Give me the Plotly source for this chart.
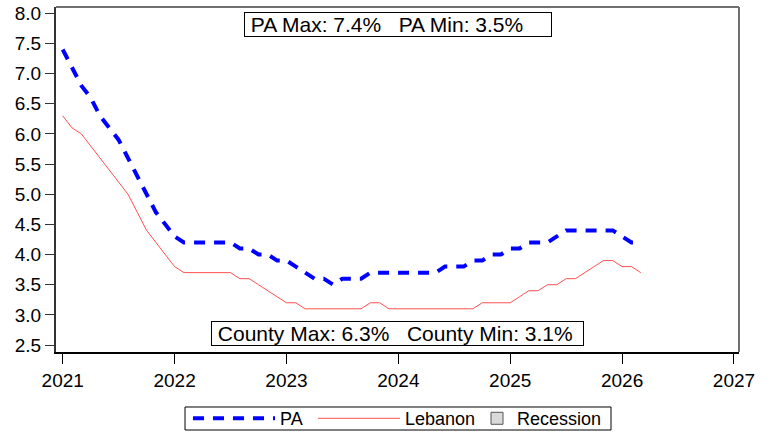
import plotly.graph_objects as go

# Monthly data, Jan 2021 - Mar 2026
start_year = 2021
pa_rate = [
    7.4, 7.1, 6.8, 6.6, 6.3, 6.1, 5.9, 5.6, 5.3, 5.0, 4.7, 4.5,   # 2021
    4.3, 4.2, 4.2, 4.2, 4.2, 4.2, 4.2, 4.1, 4.1, 4.0, 4.0, 3.9,   # 2022
    3.9, 3.8, 3.7, 3.6, 3.6, 3.5, 3.6, 3.6, 3.6, 3.7, 3.7, 3.7,   # 2023
    3.7, 3.7, 3.7, 3.7, 3.7, 3.8, 3.8, 3.8, 3.9, 3.9, 4.0, 4.0,   # 2024
    4.1, 4.1, 4.2, 4.2, 4.2, 4.3, 4.4, 4.4, 4.4, 4.4, 4.4, 4.4,   # 2025
    4.3, 4.2, 4.2,                                                # 2026
]
lebanon_rate = [
    6.3, 6.1, 6.0, 5.8, 5.6, 5.4, 5.2, 5.0, 4.7, 4.4, 4.2, 4.0,   # 2021
    3.8, 3.7, 3.7, 3.7, 3.7, 3.7, 3.7, 3.6, 3.6, 3.5, 3.4, 3.3,   # 2022
    3.2, 3.2, 3.1, 3.1, 3.1, 3.1, 3.1, 3.1, 3.1, 3.2, 3.2, 3.1,   # 2023
    3.1, 3.1, 3.1, 3.1, 3.1, 3.1, 3.1, 3.1, 3.1, 3.2, 3.2, 3.2,   # 2024
    3.2, 3.3, 3.4, 3.4, 3.5, 3.5, 3.6, 3.6, 3.7, 3.8, 3.9, 3.9,   # 2025
    3.8, 3.8, 3.7,                                                # 2026
]
year_ticks = [2021, 2022, 2023, 2024, 2025, 2026, 2027]
y_ticks = [2.5, 3.0, 3.5, 4.0, 4.5, 5.0, 5.5, 6.0, 6.5, 7.0, 7.5, 8.0]

x_vals = [start_year + i / 12 for i in range(len(pa_rate))]

SP = "\u00a0\u00a0\u00a0"
pa_label = "\u00a0PA Max: %.1f%%%sPA Min: %.1f%%" % (max(pa_rate), SP, min(pa_rate))
cty_label = "\u00a0County Max: %.1f%%%sCounty Min: %.1f%%" % (max(lebanon_rate), SP, min(lebanon_rate))

FONT = "Liberation Sans, Arial, sans-serif"

fig = go.Figure()
fig.add_trace(go.Scatter(
    x=x_vals, y=pa_rate, name="PA", mode="lines", legend="legend",
    line=dict(color="#0000ff", width=4, dash="11px,9px"),
))
fig.add_trace(go.Scatter(
    x=x_vals, y=lebanon_rate, name="Lebanon", mode="lines", legend="legend2",
    line=dict(color="#ff5050", width=1),
))
fig.add_trace(go.Bar(
    x=[None], y=[None], name="Recession", showlegend=True, legend="legend3",
    marker=dict(color="#d9d9d9", line=dict(color="#555555", width=1)),
))

L_Y = -0.193
leg_common = dict(orientation="h", y=L_Y, yanchor="middle", xanchor="left",
                  bgcolor="rgba(0,0,0,0)", borderwidth=0, font=dict(size=18))

fig.update_layout(
    width=770, height=434,
    margin=dict(l=56, r=31, t=7, b=82, autoexpand=False),
    paper_bgcolor="white", plot_bgcolor="white",
    font=dict(family=FONT, color="black", size=18),
    showlegend=True,
    legend=dict(x=0.1933, itemwidth=82, **leg_common),
    legend2=dict(x=0.3763, itemwidth=82, **leg_common),
    legend3=dict(x=0.6164, itemwidth=30, **leg_common),
    annotations=[
        dict(text=pa_label, xref="paper", yref="paper", x=0.5, y=0.949,
             xanchor="center", yanchor="middle", showarrow=False,
             font=dict(size=21), bordercolor="black", borderwidth=1,
             borderpad=0, bgcolor="white", width=306, align="left"),
        dict(text=cty_label, xref="paper", yref="paper", x=0.5, y=0.055,
             xanchor="center", yanchor="middle", showarrow=False,
             font=dict(size=21), bordercolor="black", borderwidth=1,
             borderpad=0, bgcolor="white", width=371, align="left"),
    ],
    shapes=[
        dict(type="line", xref="paper", yref="paper", x0=0, x1=1, y0=1, y1=1,
             line=dict(color="#707070", width=2)),
        dict(type="line", xref="paper", yref="paper", x0=1, x1=1, y0=0, y1=1,
             line=dict(color="#707070", width=2)),
        # legend frame
        dict(type="rect", xref="paper", yref="paper",
             x0=0.1889, x1=0.8126, y0=-0.2261, y1=-0.1594,
             line=dict(color="black", width=1), fillcolor="rgba(0,0,0,0)"),
    ],
)
fig.update_xaxes(
    range=[2020.94, 2027.045], tickvals=year_ticks,
    ticktext=[str(y) for y in year_ticks], automargin=False,
    showgrid=False, zeroline=False, showline=True, linecolor="black", linewidth=2,
    ticks="outside", ticklen=10, tickcolor="black", tickwidth=1,
    tickfont=dict(size=19),
)
fig.update_yaxes(
    range=[2.384, 8.104], tickvals=y_ticks,
    ticktext=["%.1f" % v for v in y_ticks], automargin=False,
    showgrid=False, zeroline=False, showline=True, linecolor="#333333", linewidth=2,
    ticks="outside", ticklen=9, tickcolor="#333333", tickwidth=1,
    tickfont=dict(size=19),
)

fig.write_html("out.html", config={"displayModeBar": False},
               post_script="document.body.style.margin='0';")
